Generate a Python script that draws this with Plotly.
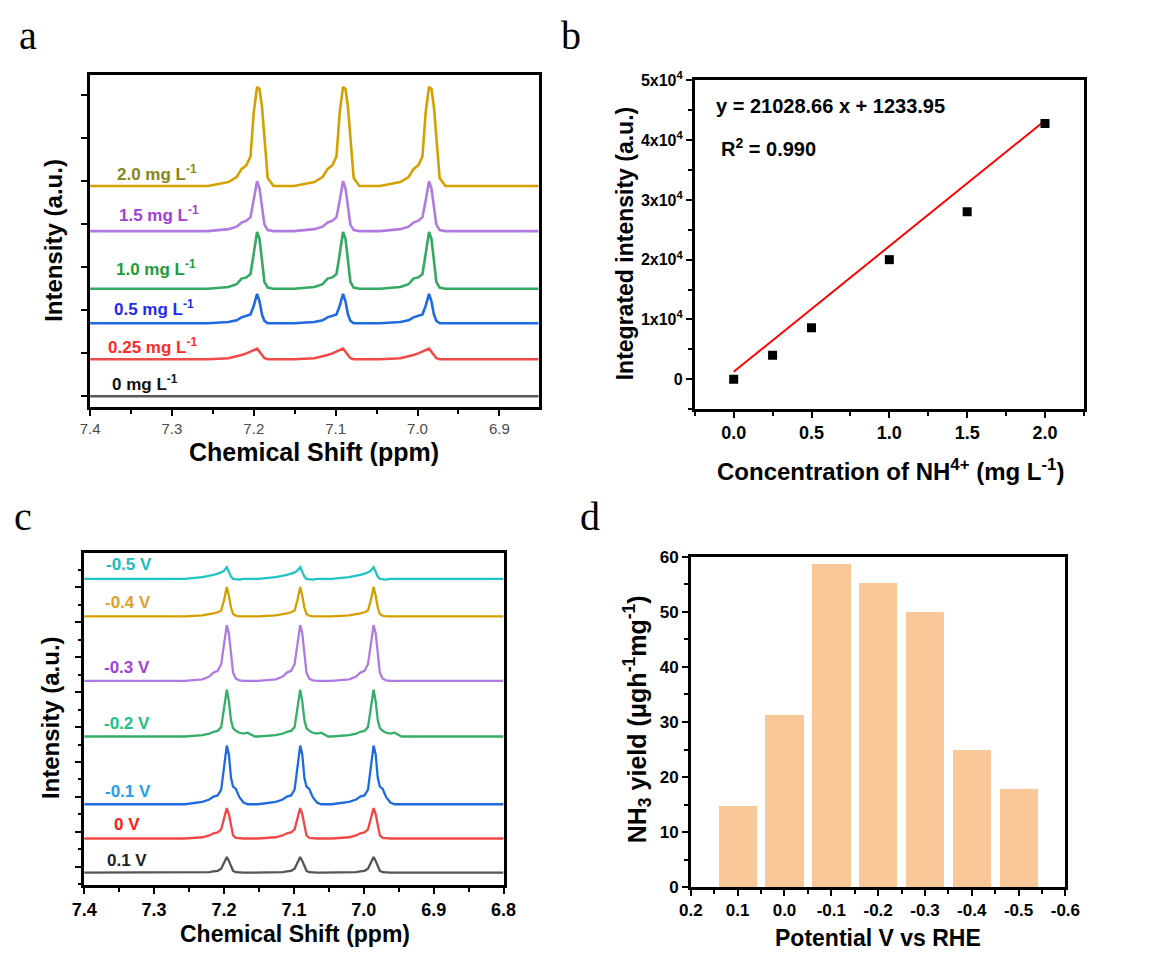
import plotly.graph_objects as go

# page is 1151x968; the browser's default 8px body margin surrounds the figure
PAGE_W, PAGE_H = 1151, 968
PAD = 8
W, H = PAGE_W - 2 * PAD, PAGE_H - 2 * PAD
SANS = "Liberation Sans, Arial, sans-serif"
SERIF = "Liberation Serif, Times New Roman, serif"

# ---------------- panel a: 1H NMR of NH4+ standards ----------------
A_PEAKS = [7.196, 7.091, 6.986]
A_RANGE = [7.4, 6.852]
A_LABELS = ["0 mg L<sup>-1</sup>", "0.25 mg L<sup>-1</sup>", "0.5 mg L<sup>-1</sup>",
            "1.0 mg L<sup>-1</sup>", "1.5 mg L<sup>-1</sup>", "2.0 mg L<sup>-1</sup>"]
A_BASELINE = [0.0, 0.86, 1.70, 2.50, 3.84, 4.89]
A_PEAK_HEIGHT = [0.0, 0.25, 0.68, 1.32, 1.16, 2.30]
# ppm offsets from each peak centre (high ppm -> low ppm)
A_OFFSETS = [0.06, 0.035, 0.025, 0.019, 0.013, 0.008, 0.004, 0.0, -0.003, -0.006, -0.009, -0.013, -0.02]
A_PROFILE_0 = [0, 0, 0, 0, 0, 0, 0, 0, 0, 0, 0, 0, 0]
A_PROFILE_025 = [0.00, 0.10, 0.25, 0.40, 0.55, 0.70, 0.85, 1.00, 0.70, 0.35, 0.10, 0.00, 0.00]
A_PROFILE_05 = [0.00, 0.04, 0.10, 0.20, 0.25, 0.30, 0.60, 1.00, 0.75, 0.30, 0.08, 0.00, 0.00]
A_PROFILE_10 = [0.00, 0.03, 0.08, 0.18, 0.20, 0.26, 0.62, 1.00, 0.88, 0.45, 0.12, 0.02, 0.00]
A_PROFILE_15 = [0.00, 0.04, 0.09, 0.17, 0.21, 0.28, 0.62, 1.00, 0.86, 0.45, 0.13, 0.02, 0.00]
A_PROFILE_20 = [0.00, 0.04, 0.09, 0.17, 0.21, 0.30, 0.75, 1.00, 0.98, 0.80, 0.45, 0.08, 0.00]
A_PROFILES = [A_PROFILE_0, A_PROFILE_025, A_PROFILE_05, A_PROFILE_10, A_PROFILE_15, A_PROFILE_20]

# ---------------- panel b: calibration ----------------
B_CONC = [0.0, 0.25, 0.5, 1.0, 1.5, 2.0]
B_INTENSITY = [0, 4000, 8600, 20000, 28000, 42800]
B_SLOPE = 21028.66
B_INTERCEPT = 1233.95
B_R2 = 0.990
B_YTICKS = [0, 10000, 20000, 30000, 40000, 50000]
B_YTICKTEXT = ["0", "1x10<sup>4</sup>", "2x10<sup>4</sup>", "3x10<sup>4</sup>",
               "4x10<sup>4</sup>", "5x10<sup>4</sup>"]
B_XTICKS = [0.0, 0.5, 1.0, 1.5, 2.0]

# ---------------- panel c: 1H NMR at different potentials ----------------
C_PEAKS = [7.196, 7.091, 6.986]
C_RANGE = [7.4, 6.8]
C_LABELS = ["0.1 V", "0 V", "-0.1 V", "-0.2 V", "-0.3 V", "-0.4 V", "-0.5 V"]
C_BASELINE = [-0.17, 0.81, 1.79, 3.73, 5.32, 7.17, 8.24]
C_PEAK_HEIGHT = [0.45, 0.87, 1.68, 1.34, 1.60, 0.84, 0.34]
C_OFFSETS = [0.06, 0.035, 0.025, 0.019, 0.013, 0.008, 0.004, 0.0, -0.003, -0.006,
             -0.009, -0.013, -0.018, -0.024, -0.03, -0.04]
C_PROFILE_P01 = [0, 0.02, 0.04, 0.08, 0.12, 0.25, 0.60, 1.0, 0.75, 0.40, 0.12, 0.03, 0, 0, 0, 0]
C_PROFILE_0 = [0, 0.04, 0.10, 0.17, 0.20, 0.30, 0.65, 1.0, 0.80, 0.40, 0.10, 0.02, 0, 0, 0, 0]
C_PROFILE_M01 = [0, 0.04, 0.08, 0.13, 0.15, 0.25, 0.60, 1.0, 0.85, 0.45, 0.30, 0.26, 0.12, 0.03, 0, 0]
C_PROFILE_M02 = [0, 0.03, 0.06, 0.10, 0.12, 0.20, 0.60, 1.0, 0.75, 0.35, 0.18, 0.12, 0.08, 0.06, 0.08, 0]
C_PROFILE_M03 = [0, 0.03, 0.08, 0.15, 0.18, 0.30, 0.65, 1.0, 0.85, 0.45, 0.15, 0.04, 0.01, 0, 0, 0]
C_PROFILE_M04 = [0, 0.03, 0.06, 0.10, 0.14, 0.20, 0.55, 1.0, 0.70, 0.30, 0.08, 0.02, 0, 0, 0, 0]
C_PROFILE_M05 = [0, 0.15, 0.25, 0.35, 0.45, 0.55, 0.70, 1.0, 0.60, 0.20, 0.0, -0.05, -0.05, 0, 0, 0]
C_PROFILES = [C_PROFILE_P01, C_PROFILE_0, C_PROFILE_M01, C_PROFILE_M02,
              C_PROFILE_M03, C_PROFILE_M04, C_PROFILE_M05]

# ---------------- panel d: NH3 yield ----------------
D_POTENTIAL = [0.1, 0.0, -0.1, -0.2, -0.3, -0.4, -0.5]
D_YIELD = [14.8, 31.3, 58.8, 55.2, 50.0, 24.9, 17.9]
D_XTICKS = [0.2, 0.1, 0.0, -0.1, -0.2, -0.3, -0.4, -0.5, -0.6]
D_XTICKTEXT = ["0.2", "0.1", "0.0", "-0.1", "-0.2", "-0.3", "-0.4", "-0.5", "-0.6"]

# ---------------- styling ----------------
A_LINE_COLORS = ["#585858", "#F04A4A", "#1E6AE0", "#35A862", "#B07BE0", "#D4A000"]
A_LABEL_COLORS = ["#111111", "#FF2A2A", "#1A2CF0", "#1E9A3C", "#A040D8", "#86861A"]
A_LABEL_POS = [(107, 388), (103, 351), (110, 312), (112, 271), (115, 216), (113, 174)]
C_LINE_COLORS = ["#555555", "#F04848", "#1E6AE0", "#35AE6A", "#B07BE0", "#D4A000", "#20C4C4"]
C_LABEL_COLORS = ["#222222", "#FF1A1A", "#1EA0F0", "#20C088", "#A040E0", "#E0A030", "#1ABCBC"]
C_LABEL_POS = [(102, 877), (110, 840), (100, 806), (99, 737), (99, 679), (100, 613), (101, 574)]
BAR_COLOR = "#FAC898"


def px(x):
    """page x pixel -> paper fraction"""
    return (x - PAD) / W


def py(y):
    """page y pixel -> paper fraction"""
    return 1 - (y - PAD) / H


def spectrum(peaks, offsets, profile, base, height, xr):
    xs, ys = [xr[0]], [base]
    for p in peaks:
        for o, r in zip(offsets, profile):
            xs.append(p + o)
            ys.append(base + height * r)
    xs.append(xr[1])
    ys.append(base)
    return xs, ys


fig = go.Figure()

for prof, base, h, col in zip(A_PROFILES, A_BASELINE, A_PEAK_HEIGHT, A_LINE_COLORS):
    xs, ys = spectrum(A_PEAKS, A_OFFSETS, prof, base, h, A_RANGE)
    fig.add_trace(go.Scatter(x=xs, y=ys, mode="lines", line=dict(color=col, width=2.6),
                             xaxis="x", yaxis="y", showlegend=False))

fit_x = [B_CONC[0], B_CONC[-1]]
fit_y = [B_SLOPE * v + B_INTERCEPT for v in fit_x]
fig.add_trace(go.Scatter(x=fit_x, y=fit_y, mode="lines", line=dict(color="#FF0000", width=2),
                         xaxis="x2", yaxis="y2", showlegend=False))
fig.add_trace(go.Scatter(x=B_CONC, y=B_INTENSITY, mode="markers",
                         marker=dict(symbol="square", size=9, color="#000000"),
                         xaxis="x2", yaxis="y2", showlegend=False))

for prof, base, h, col in zip(C_PROFILES, C_BASELINE, C_PEAK_HEIGHT, C_LINE_COLORS):
    xs, ys = spectrum(C_PEAKS, C_OFFSETS, prof, base, h, C_RANGE)
    fig.add_trace(go.Scatter(x=xs, y=ys, mode="lines", line=dict(color=col, width=2.3),
                             xaxis="x3", yaxis="y3", showlegend=False))

fig.add_trace(go.Bar(x=D_POTENTIAL, y=D_YIELD, width=0.082, marker=dict(color=BAR_COLOR, line=dict(width=0)),
                     xaxis="x4", yaxis="y4", showlegend=False))

frame = dict(showline=True, linecolor="#000000", linewidth=2.6, mirror=True,
             showgrid=False, zeroline=False, ticks="outside", tickcolor="#000000",
             tickwidth=2, ticklen=6)
bold_tick = dict(family=SANS, size=17, color="#000000", weight="bold")
minor_style = dict(ticks="outside", ticklen=4, tickwidth=2, tickcolor="#000000")

fig.update_layout(
    width=W, height=H, margin=dict(l=0, r=0, t=0, b=0),
    paper_bgcolor="white", plot_bgcolor="white", bargap=0,
    xaxis=dict(frame, domain=[px(87), px(547)], anchor="y", range=A_RANGE,
               tickmode="linear", tick0=7.4, dtick=0.1, tickformat=".1f",
               tickfont=dict(family=SANS, size=15, color="#4a4a4a"),
               minor=dict(minor_style, dtick=0.05, tick0=7.4)),
    yaxis=dict(frame, domain=[py(413), py(73)], anchor="x", range=[-0.25, 7.48],
               tickmode="linear", tick0=0, dtick=1, showticklabels=False),
    xaxis2=dict(frame, domain=[px(707), px(1106)], anchor="y2", range=[-0.25, 2.25],
                tickmode="array", tickvals=B_XTICKS, ticktext=[f"{v:.1f}" for v in B_XTICKS],
                tickfont=dict(bold_tick, size=18),
                minor=dict(minor_style, tickmode="linear", dtick=0.25, tick0=0)),
    yaxis2=dict(frame, domain=[py(415), py(79)], anchor="x2", range=[-5000, 50000],
                tickmode="array", tickvals=B_YTICKS, ticktext=B_YTICKTEXT,
                tickfont=dict(bold_tick, size=16),
                minor=dict(minor_style, tickmode="linear", dtick=5000, tick0=0)),
    xaxis3=dict(frame, domain=[px(81), px(511)], anchor="y3", range=C_RANGE,
                tickmode="linear", tick0=7.4, dtick=0.1, tickformat=".1f",
                tickfont=dict(bold_tick, size=18),
                minor=dict(minor_style, dtick=0.05, tick0=7.4)),
    yaxis3=dict(frame, domain=[py(902), py(562)], anchor="x3", range=[-0.53, 8.99],
                tickmode="linear", tick0=0, dtick=1, showticklabels=False,
                minor=dict(minor_style, dtick=0.5, tick0=0, ticklen=3)),
    xaxis4=dict(frame, domain=[px(703), px(1087)], anchor="y4", range=[0.2, -0.6],
                tickmode="array", tickvals=D_XTICKS, ticktext=D_XTICKTEXT,
                tickfont=bold_tick,
                minor=dict(minor_style, tickmode="linear", dtick=0.05, tick0=0)),
    yaxis4=dict(frame, domain=[py(904), py(566)], anchor="x4", range=[0, 60],
                tickmode="linear", tick0=0, dtick=10, tickfont=bold_tick,
                minor=dict(minor_style, dtick=5, tick0=0)),
)

ann = []


def text(x, y, s, size, color="#000000", bold=True, family=SANS, xanchor="center", angle=0):
    ann.append(dict(x=px(x), y=py(y), xref="paper", yref="paper", text=s, showarrow=False,
                    xanchor=xanchor, yanchor="middle", textangle=angle,
                    font=dict(family=family, size=size, color=color, weight="bold" if bold else "normal")))


# panel letters
text(23, 33, "a", 40, bold=False, family=SERIF)
text(580, 33, "b", 40, bold=False, family=SERIF)
text(18, 525, "c", 40, bold=False, family=SERIF)
text(600, 525, "d", 40, bold=False, family=SERIF)

# axis titles
text(50, 242, "Intensity (a.u.)", 24, angle=-90)
text(317, 459, "Chemical Shift (ppm)", 25)
text(635, 246, "Integrated intensity (a.u.)", 23, angle=-90)
text(908, 477, "Concentration of NH<sup>4+</sup> (mg L<sup>-1</sup>)", 24)
text(46, 731, "Intensity (a.u.)", 24, angle=-90)
text(297, 952, "Chemical Shift (ppm)", 23)
text(648, 732, "NH<sub>3</sub> yield (μgh<sup>-1</sup>mg<sup>-1</sup>)", 25, angle=-90)
text(895, 956, "Potential V vs RHE", 23)

# fit annotations
text(727, 105, f"y = {B_SLOPE:.2f} x + {B_INTERCEPT:.2f}", 20, xanchor="left")
text(732, 148, f"R<sup>2</sup> = {B_R2:.3f}", 20, xanchor="left")

# trace labels
for lab, (lx, ly), col in zip(A_LABELS, A_LABEL_POS, A_LABEL_COLORS):
    text(lx, ly, lab, 17, color=col, xanchor="left")
for lab, (lx, ly), col in zip(C_LABELS, C_LABEL_POS, C_LABEL_COLORS):
    text(lx, ly, lab, 17, color=col, xanchor="left")

fig.update_layout(annotations=ann)
fig.write_html("out.html")
